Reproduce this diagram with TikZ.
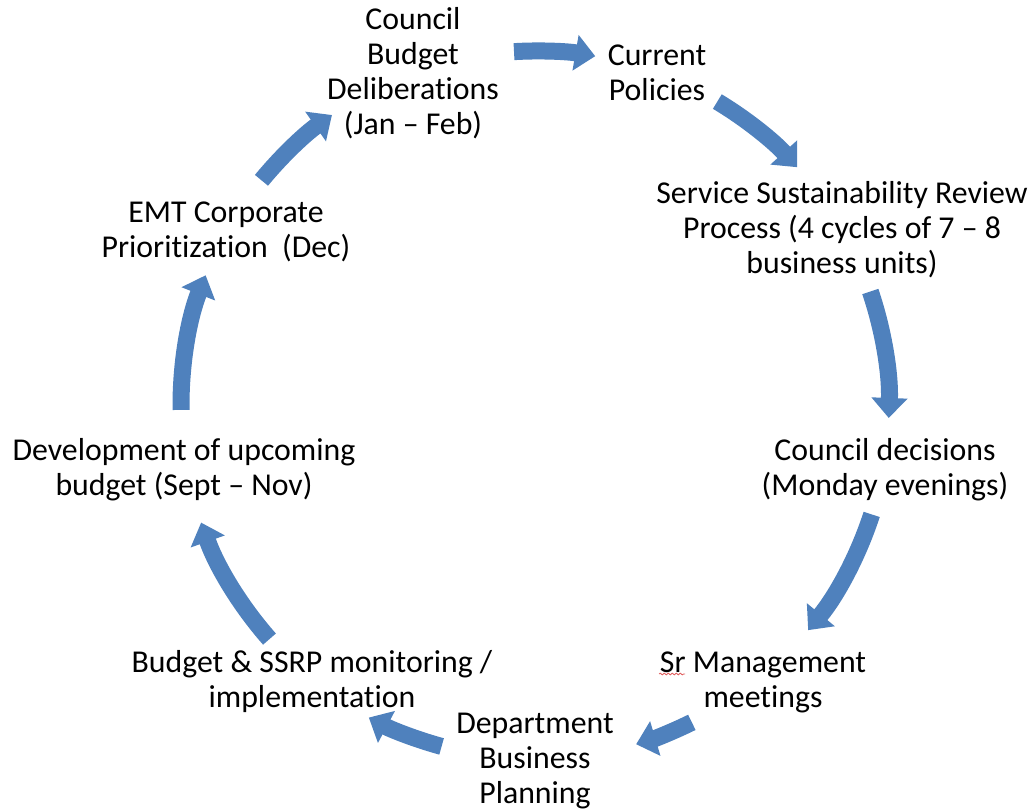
\documentclass[tikz,border=0pt]{standalone}
\usepackage{fontspec}
\setmainfont{Carlito}[Ligatures={NoCommon,TeX}]
\usetikzlibrary{arrows.meta,calc,decorations.pathmorphing}
\definecolor{arrowblue}{HTML}{4F81BD}
\definecolor{spellred}{HTML}{E06060}
\begin{document}
\begin{tikzpicture}[x=1pt,y=1pt,
  lbl/.style={align=center,inner sep=0pt,font=\fontsize{31.8}{35}\selectfont},
  cyc/.style={draw=arrowblue,line width=17pt,line cap=butt,
    -{Triangle[width=35pt,length=20pt]}}]
\useasboundingbox (0,0) rectangle (1034,-811);
\coordinate (C) at (535,-405);
\def\R{354}
% nodes
\node[lbl] (n1) at (413,-73) {Council\\Budget\\Deliberations\\(Jan – Feb)};
\node[lbl] (n2) at (657,-73) {Current\\Policies};
\node[lbl] (n3) at (842,-230) {Service Sustainability Review\\Process (4 cycles of 7 – 8\\business units)};
\node[lbl] (n4) at (885,-470) {Council decisions\\(Monday evenings)};
\node[lbl] (n5) at (763,-682) {Sr Management\\meetings};
\node[lbl] (n6) at (535,-761) {Department\\Business\\Planning};
\node[lbl] (n7) at (312,-682) {Budget \& SSRP monitoring /\\implementation};
\node[lbl] (n8) at (184,-470) {Development of upcoming\\budget (Sept – Nov)};
\node[lbl] (n9) at (226,-232) {EMT Corporate\\Prioritization\ \ (Dec)};
% spell-check underline under "Sr"
\coordinate (sqA) at (659,-674);
\coordinate (sqB) at (685,-674);
\draw[spellred,line width=0.8pt,decorate,decoration={snake,amplitude=0.9pt,segment length=4pt}] (sqA) -- (sqB);
% arrows along the cycle
\foreach \i/\a/\b in {1/93.4/80.2, 2/59/42.2, 3/18.7/-2.1, 4/-18/-39.5, 5/-63.7/-73.4,
  6/-105.3/-118, 7/-138.6/-160.6, 8/180.8/158.5, 9/140.6/125}{
  \coordinate (s\i) at ($(C)+(\a:\R)$);
  \draw[cyc] (s\i) arc[start angle=\a, end angle=\b, radius=\R pt];
}
\end{tikzpicture}
\end{document}
